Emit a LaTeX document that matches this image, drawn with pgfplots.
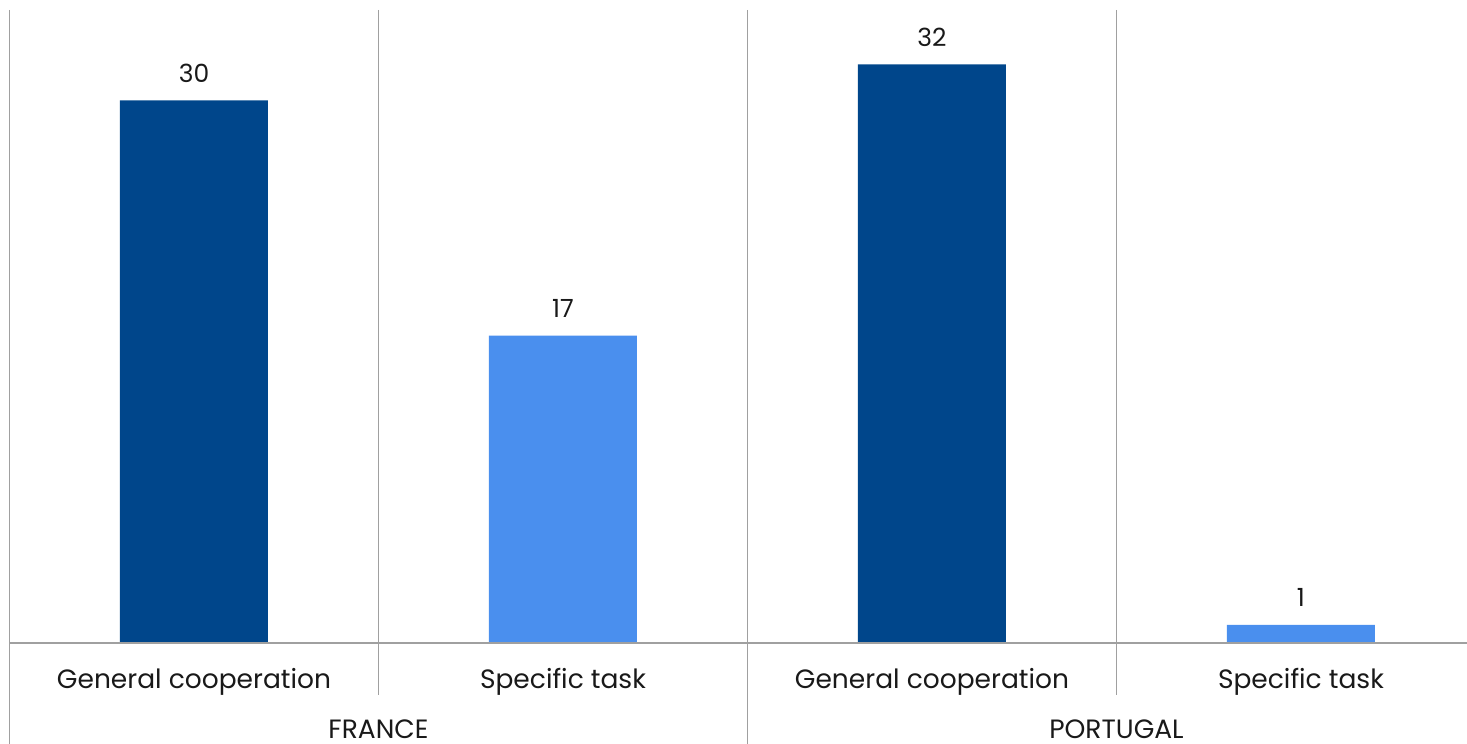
\documentclass[border=0pt]{standalone}
\usepackage{pgfplots}
\pgfplotsset{compat=1.18}
\usepackage{fontspec}
\setmainfont{Poppins}
\definecolor{darkbar}{RGB}{0,70,139}
\definecolor{lightbar}{RGB}{74,143,238}
\definecolor{gridgrey}{RGB}{160,160,160}

\begin{document}
\begin{tikzpicture}[x=1pt,y=1pt]
\useasboundingbox (0,0) rectangle (1467,744);
\begin{axis}[
  at={(9.5pt,101pt)}, anchor=south west,
  scale only axis, width=1457.5pt, height=633pt,
  xmin=-0.5, xmax=3.45, ymin=0, ymax=35,
  clip=false,
  /pgf/number format/assume math mode=true,
  axis line style={draw=none},
  tick style={draw=none},
  major tick length=0pt,
  ytick=\empty,
  xtick={0,1,2,3},
  xticklabels={General cooperation, Specific task, General cooperation, Specific task},
  xticklabel style={anchor=base, yshift=-45pt, font=\fontsize{26.5}{31}\selectfont, text=black!90},
  ybar,
  bar width=148pt,
  nodes near coords,
  every node near coord/.append style={anchor=base, yshift=18pt, font=\fontsize{25}{30}\selectfont, text=black!90},
]
\addplot[fill=darkbar, draw=none, bar shift=0pt] coordinates {(0,30) (2,32)};
\addplot[fill=lightbar, draw=none, bar shift=0pt] coordinates {(1,17) (3,1)};

% separators and axis lines
\draw[gridgrey, line width=1.2pt] (axis cs:-0.5,35) -- ([yshift=-101pt]axis cs:-0.5,0);
\draw[gridgrey, line width=1.2pt] (axis cs:1.5,35) -- ([yshift=-101pt]axis cs:1.5,0);
\draw[gridgrey, line width=1.2pt] (axis cs:0.5,35) -- ([yshift=-52pt]axis cs:0.5,0);
\draw[gridgrey, line width=1.2pt] (axis cs:2.5,35) -- ([yshift=-52pt]axis cs:2.5,0);
\draw[gridgrey, line width=1.6pt] (axis cs:-0.5,0) -- (axis cs:3.45,0);

\node[anchor=base, font=\fontsize{26.5}{31}\selectfont, text=black!90] at ([yshift=-95pt]axis cs:0.5,0) {FRANCE};
\node[anchor=base, font=\fontsize{26.5}{31}\selectfont, text=black!90] at ([yshift=-95pt]axis cs:2.5,0) {PORTUGAL};
\end{axis}
\end{tikzpicture}
\end{document}
